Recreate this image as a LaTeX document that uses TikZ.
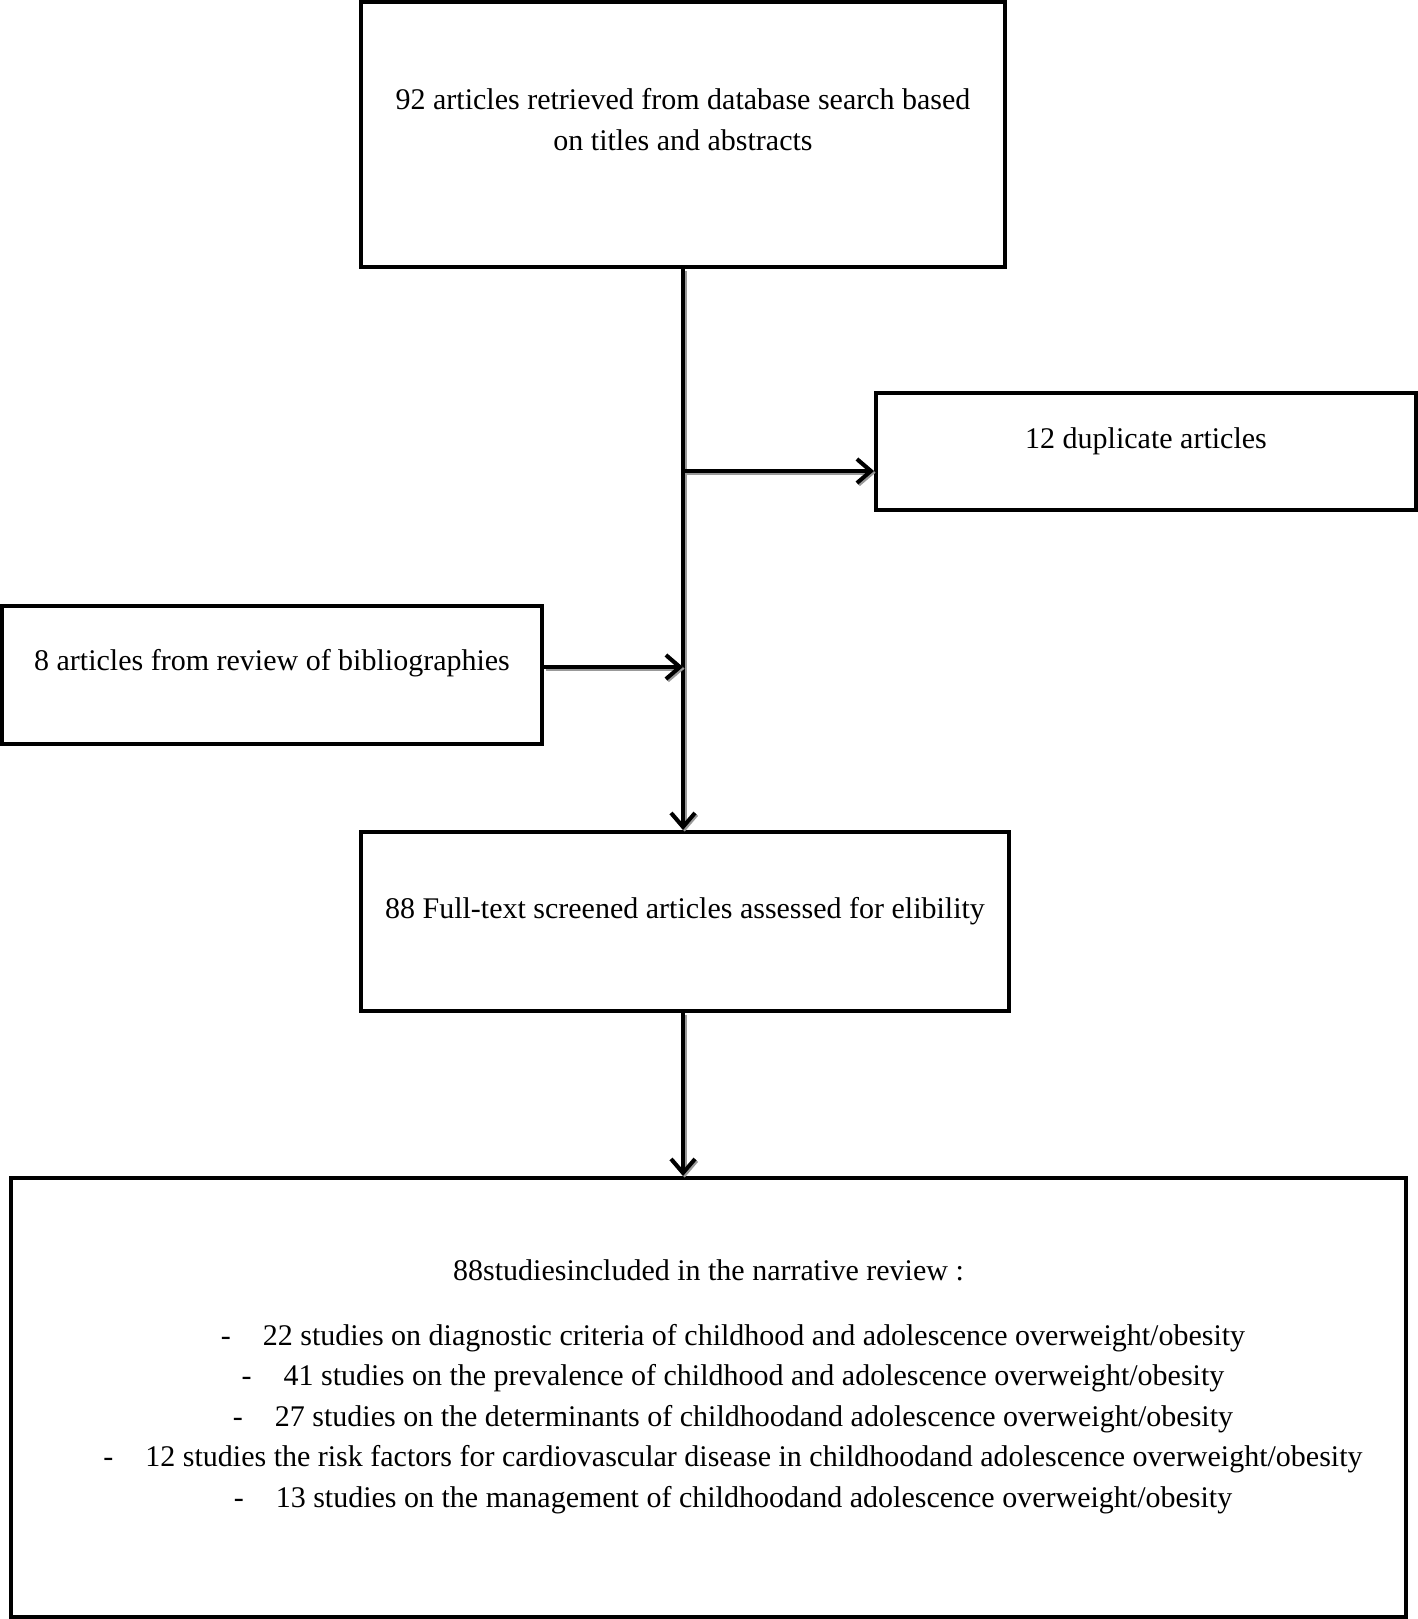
\documentclass[tikz,border=0pt]{standalone}
\usepackage{fontspec}
\setmainfont{Liberation Serif}
\usetikzlibrary{
  arrows.meta,
  positioning
}
\newcommand{\itemdash}{\hspace*{24.5pt}-\hspace{16pt}}

\begin{document}
\begin{tikzpicture}[x=0.5pt, y=-0.5pt,
  box/.style={rectangle, draw=black, line width=2pt, align=center,
              inner sep=0pt, font=\fontsize{15}{20.25}\selectfont},
  arr/.style={-{Straight Barb[length=7pt,width=12pt,line width=2pt]},
              line width=2pt,
              preaction={draw=black!40, line width=2pt,
                         transform canvas={shift={(0.8pt,-0.8pt)}}}}
]
\useasboundingbox (0,0) rectangle (1418,1619);

\node[box, minimum width=322pt, minimum height=132.5pt, text depth=15pt]
     (search) at (683,134.5)
     {92 articles retrieved from database search based\\on titles and abstracts};
\node[box, minimum width=270pt, minimum height=58.5pt, text depth=13.5pt]
     (dup) at (1146,451.5) {12 duplicate articles};
\node[box, minimum width=270pt, minimum height=69pt, text depth=15pt]
     (bib) at (272,675) {8 articles from review of bibliographies};
\node[box, minimum width=324pt, minimum height=89.5pt, text depth=13.5pt]
     (screen) at (685,921.5) {88 Full-text screened articles assessed for elibility};
\node[box, minimum width=697.5pt, minimum height=219.5pt, text depth=14pt]
     (final) at (708.5,1397.5)
     {88studiesincluded in the narrative review :\\[12.25pt]
      \itemdash 22 studies on diagnostic criteria of childhood and adolescence overweight/obesity\\
      \itemdash 41 studies on the prevalence of childhood and adolescence overweight/obesity\\
      \itemdash 27 studies on the determinants of childhoodand adolescence overweight/obesity\\
      \itemdash 12 studies the risk factors for cardiovascular disease in childhoodand adolescence overweight/obesity\\
      \itemdash 13 studies on the management of childhoodand adolescence overweight/obesity};

% branch points on the main line
\coordinate (dupfork) at (683,471);
\coordinate (bibjoin) at (683,667);

\draw[arr] (search.south) -- (search.south |- screen.north);
\draw[arr] (dupfork) -- (dupfork -| dup.west);
\draw[arr] (bibjoin -| bib.east) -- (bibjoin);
\draw[arr] (search.south |- screen.south) -- (search.south |- final.north);
\end{tikzpicture}
\end{document}
